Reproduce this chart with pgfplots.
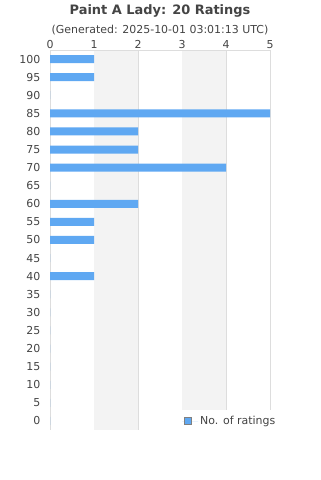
\documentclass[border=0pt]{standalone}
\usepackage{pgfplots}
\pgfplotsset{compat=1.18}
\usepackage{fontspec}
\setmainfont{DejaVu Sans}
\definecolor{barblue}{HTML}{5FA8F2}
\definecolor{txt}{HTML}{444444}
\definecolor{gridc}{HTML}{DDDDDD}
\definecolor{band}{HTML}{F3F3F3}
\begin{document}
\begin{tikzpicture}[x=1bp,y=1bp]
\useasboundingbox (0,0) rectangle (320,480);
\node[font=\fontsize{13}{15}\selectfont\bfseries, text=txt] at (160,469) {Paint A Lady: 20 Ratings};
\node[font=\fontsize{11}{13}\selectfont, text=txt] at (160,450) {(Generated: 2025-10-01 03:01:13 UTC)};
\begin{axis}[
  at={(50bp,50bp)}, anchor=south west,
  width=220bp, height=380bp, scale only axis,
  xbar, bar width=8bp,
  xmin=0, xmax=5, ymin=-0.5, ymax=20.5,
  axis x line*=top,
  xtick={0,1,2,3,4,5},
  ytick={0,...,20},
  yticklabels={0,5,10,15,20,25,30,35,40,45,50,55,60,65,70,75,80,85,90,95,100},
  /pgf/number format/assume math mode=true,
  tick style={draw=none},
  axis line style={draw=gridc},
  xmajorgrids, major grid style={draw=gridc},
  ticklabel style={font=\fontsize{11}{13}\selectfont, text=txt},
  xticklabel style={yshift=-2.5bp},
  yticklabel style={xshift=-2bp},
  legend style={at={(0.582,0.0526)}, anchor=north west, draw=none, fill=white,
    font=\fontsize{11}{13}\selectfont, text=txt, inner xsep=4bp, inner ysep=4bp},
  legend image code/.code={\path (0bp,0bp) -- (16bp,0bp);\draw[fill=barblue, draw=gray] (2bp,-3.5bp) rectangle (9bp,3.5bp);},
]
\fill[band] (axis cs:1,-0.5) rectangle (axis cs:2,20.5);
\fill[band] (axis cs:3,-0.5) rectangle (axis cs:4,20.5);
\draw[gridc] (axis cs:0,-0.5) rectangle (axis cs:5,20.5);
\addplot[fill=barblue, draw=none] coordinates {
(0,0) (0,1) (0,2) (0,3) (0,4) (0,5) (0,6) (0,7) (1,8) (0,9) (1,10)
(1,11) (2,12) (0,13) (4,14) (2,15) (2,16) (5,17) (0,18) (1,19) (1,20)};
\addlegendentry{No. of ratings}
\end{axis}
\end{tikzpicture}
\end{document}
